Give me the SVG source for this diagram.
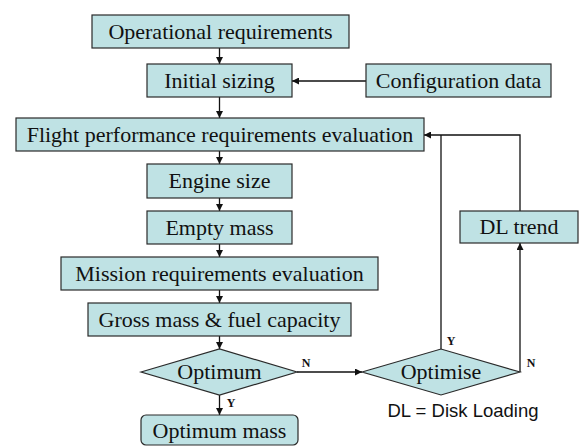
<svg xmlns="http://www.w3.org/2000/svg" width="579" height="446" viewBox="0 0 579 446">
<style>
.box{fill:#bfe2e4;stroke:#2a2a2a;stroke-width:1.2}
.t{font-family:"Liberation Serif","Times New Roman",serif;font-size:22px;fill:#111;text-anchor:middle}
.lbl{font-family:"Liberation Serif","Times New Roman",serif;font-size:12px;font-weight:bold;fill:#111;text-anchor:middle}
.note{font-family:"Liberation Sans",Arial,sans-serif;font-size:18.5px;fill:#111;text-anchor:middle}
.c{fill:none;stroke:#111;stroke-width:1.3}
</style>
<defs>
<marker id="ah" viewBox="0 0 10 10" refX="10" refY="5" markerWidth="7" markerHeight="7" markerUnits="userSpaceOnUse" orient="auto">
<path d="M0,0 L10,5 L0,10 z" fill="#111"/>
</marker>
</defs>
<rect width="579" height="446" fill="#fff"/>
<g id="connectors">
<path class="c" d="M219.5,48 V64" marker-end="url(#ah)"/>
<path class="c" d="M366,81 H292" marker-end="url(#ah)"/>
<path class="c" d="M219.5,97 V118" marker-end="url(#ah)"/>
<path class="c" d="M219.5,151 V164" marker-end="url(#ah)"/>
<path class="c" d="M219.5,198 V211" marker-end="url(#ah)"/>
<path class="c" d="M219.5,244 V257" marker-end="url(#ah)"/>
<path class="c" d="M219.5,290 V303" marker-end="url(#ah)"/>
<path class="c" d="M219.5,336 V349" marker-end="url(#ah)"/>
<path class="c" d="M219.5,395 V415" marker-end="url(#ah)"/>
<path class="c" d="M297,372 H362" marker-end="url(#ah)"/>
<path class="c" d="M441,349 V135"/>
<path class="c" d="M520,211 V135 H424" marker-end="url(#ah)"/>
<path class="c" d="M520,372 V243" marker-end="url(#ah)"/>
<text class="lbl" x="231" y="407">Y</text>
<text class="lbl" x="306" y="367">N</text>
<text class="lbl" x="451" y="345">Y</text>
<text class="lbl" x="531" y="367">N</text>
</g>
<g id="operational"><rect class="box" x="92" y="15" width="257" height="33"/><text class="t" x="220.5" y="39">Operational requirements</text></g>
<g id="initial"><rect class="box" x="147" y="64" width="145" height="33"/><text class="t" x="219.5" y="88">Initial sizing</text></g>
<g id="config"><rect class="box" x="366" y="64" width="185" height="33"/><text class="t" x="458.5" y="88">Configuration data</text></g>
<g id="flight"><rect class="box" x="16" y="118" width="408" height="33"/><text class="t" x="220" y="142">Flight performance requirements evaluation</text></g>
<g id="engine"><rect class="box" x="147" y="164" width="145" height="34"/><text class="t" x="219.5" y="188">Engine size</text></g>
<g id="empty"><rect class="box" x="147" y="211" width="145" height="33"/><text class="t" x="219.5" y="235">Empty mass</text></g>
<g id="mission"><rect class="box" x="61" y="257" width="317" height="33"/><text class="t" x="219.5" y="281">Mission requirements evaluation</text></g>
<g id="gross"><rect class="box" x="88" y="303" width="263" height="33"/><text class="t" x="219.5" y="327">Gross mass &amp; fuel capacity</text></g>
<g id="optimum"><path class="box" d="M141,372 L219.5,349 L297,372 L219.5,395 Z"/><text class="t" x="219.5" y="379">Optimum</text></g>
<g id="optimise"><path class="box" d="M362,372 L441,349 L520,372 L441,395 Z"/><text class="t" x="441" y="379">Optimise</text></g>
<g id="dltrend"><rect class="box" x="460" y="211" width="118" height="32"/><text class="t" x="519" y="234">DL trend</text></g>
<g id="optmass"><rect class="box" x="141" y="415" width="157" height="30" rx="5"/><text class="t" x="219.5" y="438">Optimum mass</text></g>
<g id="note"><text class="note" x="463" y="417">DL = Disk Loading</text></g>
</svg>
